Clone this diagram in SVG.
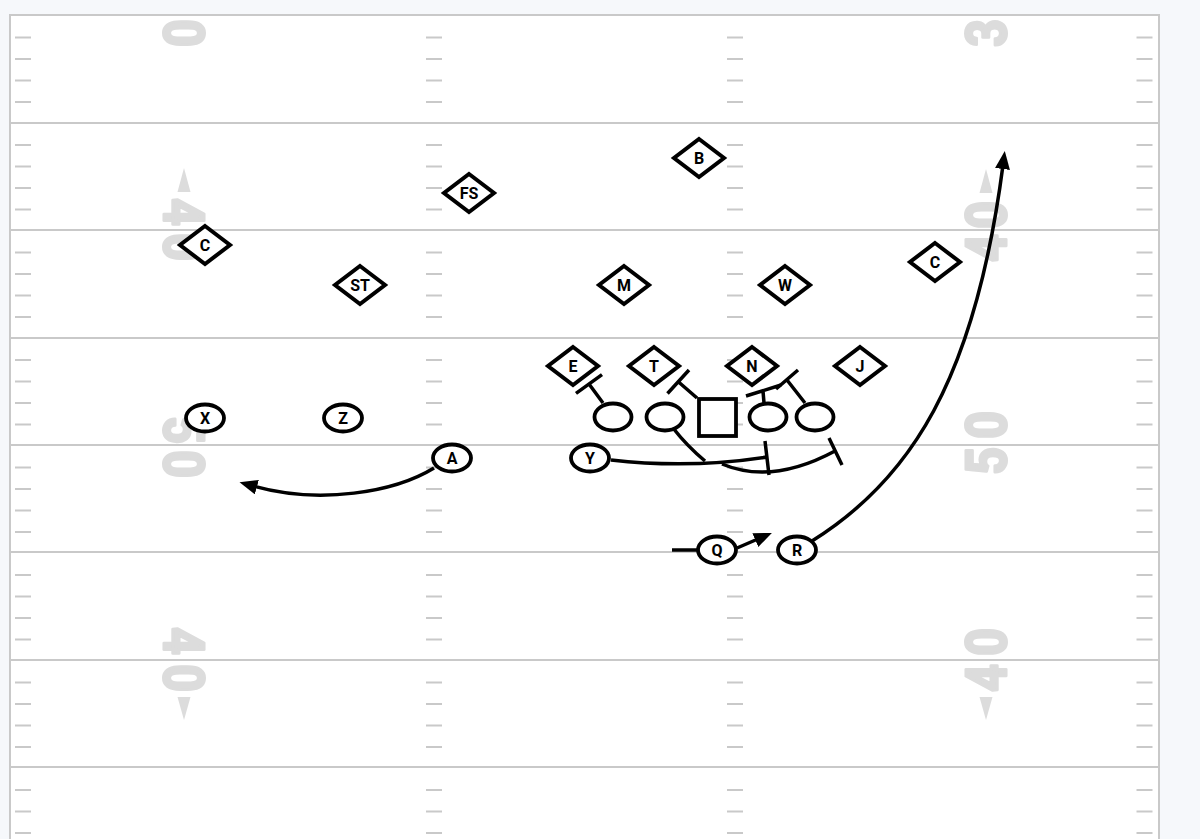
<svg xmlns="http://www.w3.org/2000/svg" width="1200" height="839" viewBox="0 0 1200 839">
<style>
.ln{stroke:#c9c9c9;stroke-width:2;fill:none}
.tk{stroke:#c9c9c9;stroke-width:16;fill:none;stroke-dasharray:2 19.5 2 19.5 2 19.5 2 41}
.num{fill:#dcdcdc;stroke:#dcdcdc;stroke-width:3;stroke-linejoin:round;font-family:Roboto,"Liberation Sans",sans-serif;font-weight:700;font-size:56px;text-anchor:middle}
.tri{fill:#dcdcdc}
.d{fill:#fff;stroke:#000;stroke-width:4;stroke-linejoin:miter}
.o{fill:#fff;stroke:#000;stroke-width:3.8}
.t{font-family:Roboto,"Liberation Sans",sans-serif;font-weight:700;font-size:16px;text-anchor:middle;fill:#000}
.r{fill:none;stroke:#000;stroke-width:3.5;stroke-linecap:butt}
</style>
<defs>
<marker id="ah" markerUnits="userSpaceOnUse" markerWidth="20" markerHeight="16" refX="4" refY="7.5" orient="auto">
<path d="M0,0 L18,7.5 L0,15 z" fill="#000"/>
</marker>
</defs>
<rect x="0" y="0" width="1200" height="839" fill="#f6f8fb"/>
<g id="field">
<rect x="10" y="15" width="1149" height="850" fill="#fff" stroke="#c9c9c9" stroke-width="2"/>
<path class="ln" d="M10 123H1159M10 230H1159M10 338H1159M10 445H1159M10 552H1159M10 660H1159M10 767H1159"/>
<path class="tk" d="M23 36.5V850M434 36.5V850M735 36.5V850M1144.5 36.5V850"/>
</g>
<g id="numbers">
<text class="num" transform="translate(184,33) rotate(90) scale(0.86,1)" y="20">0</text>
<text class="num" transform="translate(184,212) rotate(90) scale(0.86,1)" y="20">4</text>
<text class="num" transform="translate(184,247) rotate(90) scale(0.86,1)" y="20">0</text>
<text class="num" transform="translate(184,430) rotate(90) scale(0.86,1)" y="20">5</text>
<text class="num" transform="translate(184,464) rotate(90) scale(0.86,1)" y="20">0</text>
<text class="num" transform="translate(184,641) rotate(90) scale(0.86,1)" y="20">4</text>
<text class="num" transform="translate(184,678) rotate(90) scale(0.86,1)" y="20">0</text>
<polygon class="tri" points="184,168 190.5,192 177.5,192"/>
<polygon class="tri" points="184,720 190.5,697 177.5,697"/>
<text class="num" transform="translate(986,33) rotate(-90) scale(0.86,1)" y="20">3</text>
<text class="num" transform="translate(986,248) rotate(-90) scale(0.86,1)" y="20">4</text>
<text class="num" transform="translate(986,215) rotate(-90) scale(0.86,1)" y="20">0</text>
<text class="num" transform="translate(986,461) rotate(-90) scale(0.86,1)" y="20">5</text>
<text class="num" transform="translate(986,425) rotate(-90) scale(0.86,1)" y="20">0</text>
<text class="num" transform="translate(986,678) rotate(-90) scale(0.86,1)" y="20">4</text>
<text class="num" transform="translate(986,642) rotate(-90) scale(0.86,1)" y="20">0</text>
<polygon class="tri" points="986,169 992.5,193 979.5,193"/>
<polygon class="tri" points="986,720 992.5,697 979.5,697"/>
</g>
<g id="connectors">
<path class="r" d="M434 468C395 492 320 505 253 486" marker-end="url(#ah)"/>
<path class="r" d="M812 541C910 480 975 380 1003 165" marker-end="url(#ah)"/>
<path class="r" d="M737 548L759 538.5" marker-end="url(#ah)"/>
<path class="r" d="M672 550H697"/>
<path class="r" d="M603 403L589 384M576 393.4L602 374.6"/>
<path class="r" d="M697 398L678 381.5M667.5 393.5L689 370"/>
<path class="r" d="M764 403L763 391M746 396L781 385"/>
<path class="r" d="M805 403L787 380M776 389L798 370"/>
<path class="r" d="M673 428Q687 446 705 461"/>
<path class="r" d="M611 460Q690 469 767 457M765 441L769 475"/>
<path class="r" d="M722 464Q772 485 835 451M829 438L842 465"/>
</g>
<g id="B" transform="translate(699,158)"><polygon class="d" points="0,-19 25,0 0,19 -25,0"/><text class="t" y="5.8">B</text></g>
<g id="FS" transform="translate(469,193)"><polygon class="d" points="0,-19 25,0 0,19 -25,0"/><text class="t" y="5.8">FS</text></g>
<g id="C1" transform="translate(205,245)"><polygon class="d" points="0,-19 25,0 0,19 -25,0"/><text class="t" y="5.8">C</text></g>
<g id="ST" transform="translate(360,285)"><polygon class="d" points="0,-19 25,0 0,19 -25,0"/><text class="t" y="5.8">ST</text></g>
<g id="M" transform="translate(624,285)"><polygon class="d" points="0,-19 25,0 0,19 -25,0"/><text class="t" y="5.8">M</text></g>
<g id="W" transform="translate(785,285)"><polygon class="d" points="0,-19 25,0 0,19 -25,0"/><text class="t" y="5.8">W</text></g>
<g id="C2" transform="translate(935,262)"><polygon class="d" points="0,-19 25,0 0,19 -25,0"/><text class="t" y="5.8">C</text></g>
<g id="E" transform="translate(573,366)"><polygon class="d" points="0,-19 25,0 0,19 -25,0"/><text class="t" y="5.8">E</text></g>
<g id="T" transform="translate(654,366)"><polygon class="d" points="0,-19 25,0 0,19 -25,0"/><text class="t" y="5.8">T</text></g>
<g id="N" transform="translate(752,366)"><polygon class="d" points="0,-19 25,0 0,19 -25,0"/><text class="t" y="5.8">N</text></g>
<g id="J" transform="translate(860,366)"><polygon class="d" points="0,-19 25,0 0,19 -25,0"/><text class="t" y="5.8">J</text></g>
<g id="X" transform="translate(205,418)"><ellipse class="o" rx="19" ry="13.5"/><text class="t" y="5.8">X</text></g>
<g id="Z" transform="translate(343,418)"><ellipse class="o" rx="19" ry="13.5"/><text class="t" y="5.8">Z</text></g>
<g id="A" transform="translate(452,458)"><ellipse class="o" rx="19" ry="13.5"/><text class="t" y="5.8">A</text></g>
<g id="Y" transform="translate(590,458)"><ellipse class="o" rx="19" ry="13.5"/><text class="t" y="5.8">Y</text></g>
<g id="Q" transform="translate(717,550)"><ellipse class="o" rx="19" ry="13.5"/><text class="t" y="5.8">Q</text></g>
<g id="R" transform="translate(797,550)"><ellipse class="o" rx="19" ry="13.5"/><text class="t" y="5.8">R</text></g>
<g id="OL1" transform="translate(613,417)"><ellipse class="o" rx="18.5" ry="13.5"/></g>
<g id="OL2" transform="translate(665,417)"><ellipse class="o" rx="18.5" ry="13.5"/></g>
<g id="OC" transform="translate(717.5,417.5)"><rect class="o" x="-18.5" y="-18.5" width="37" height="37" stroke-width="4.5"/></g>
<g id="OL3" transform="translate(768,417)"><ellipse class="o" rx="18.5" ry="13.5"/></g>
<g id="OL4" transform="translate(815,417)"><ellipse class="o" rx="18.5" ry="13.5"/></g>
</svg>
